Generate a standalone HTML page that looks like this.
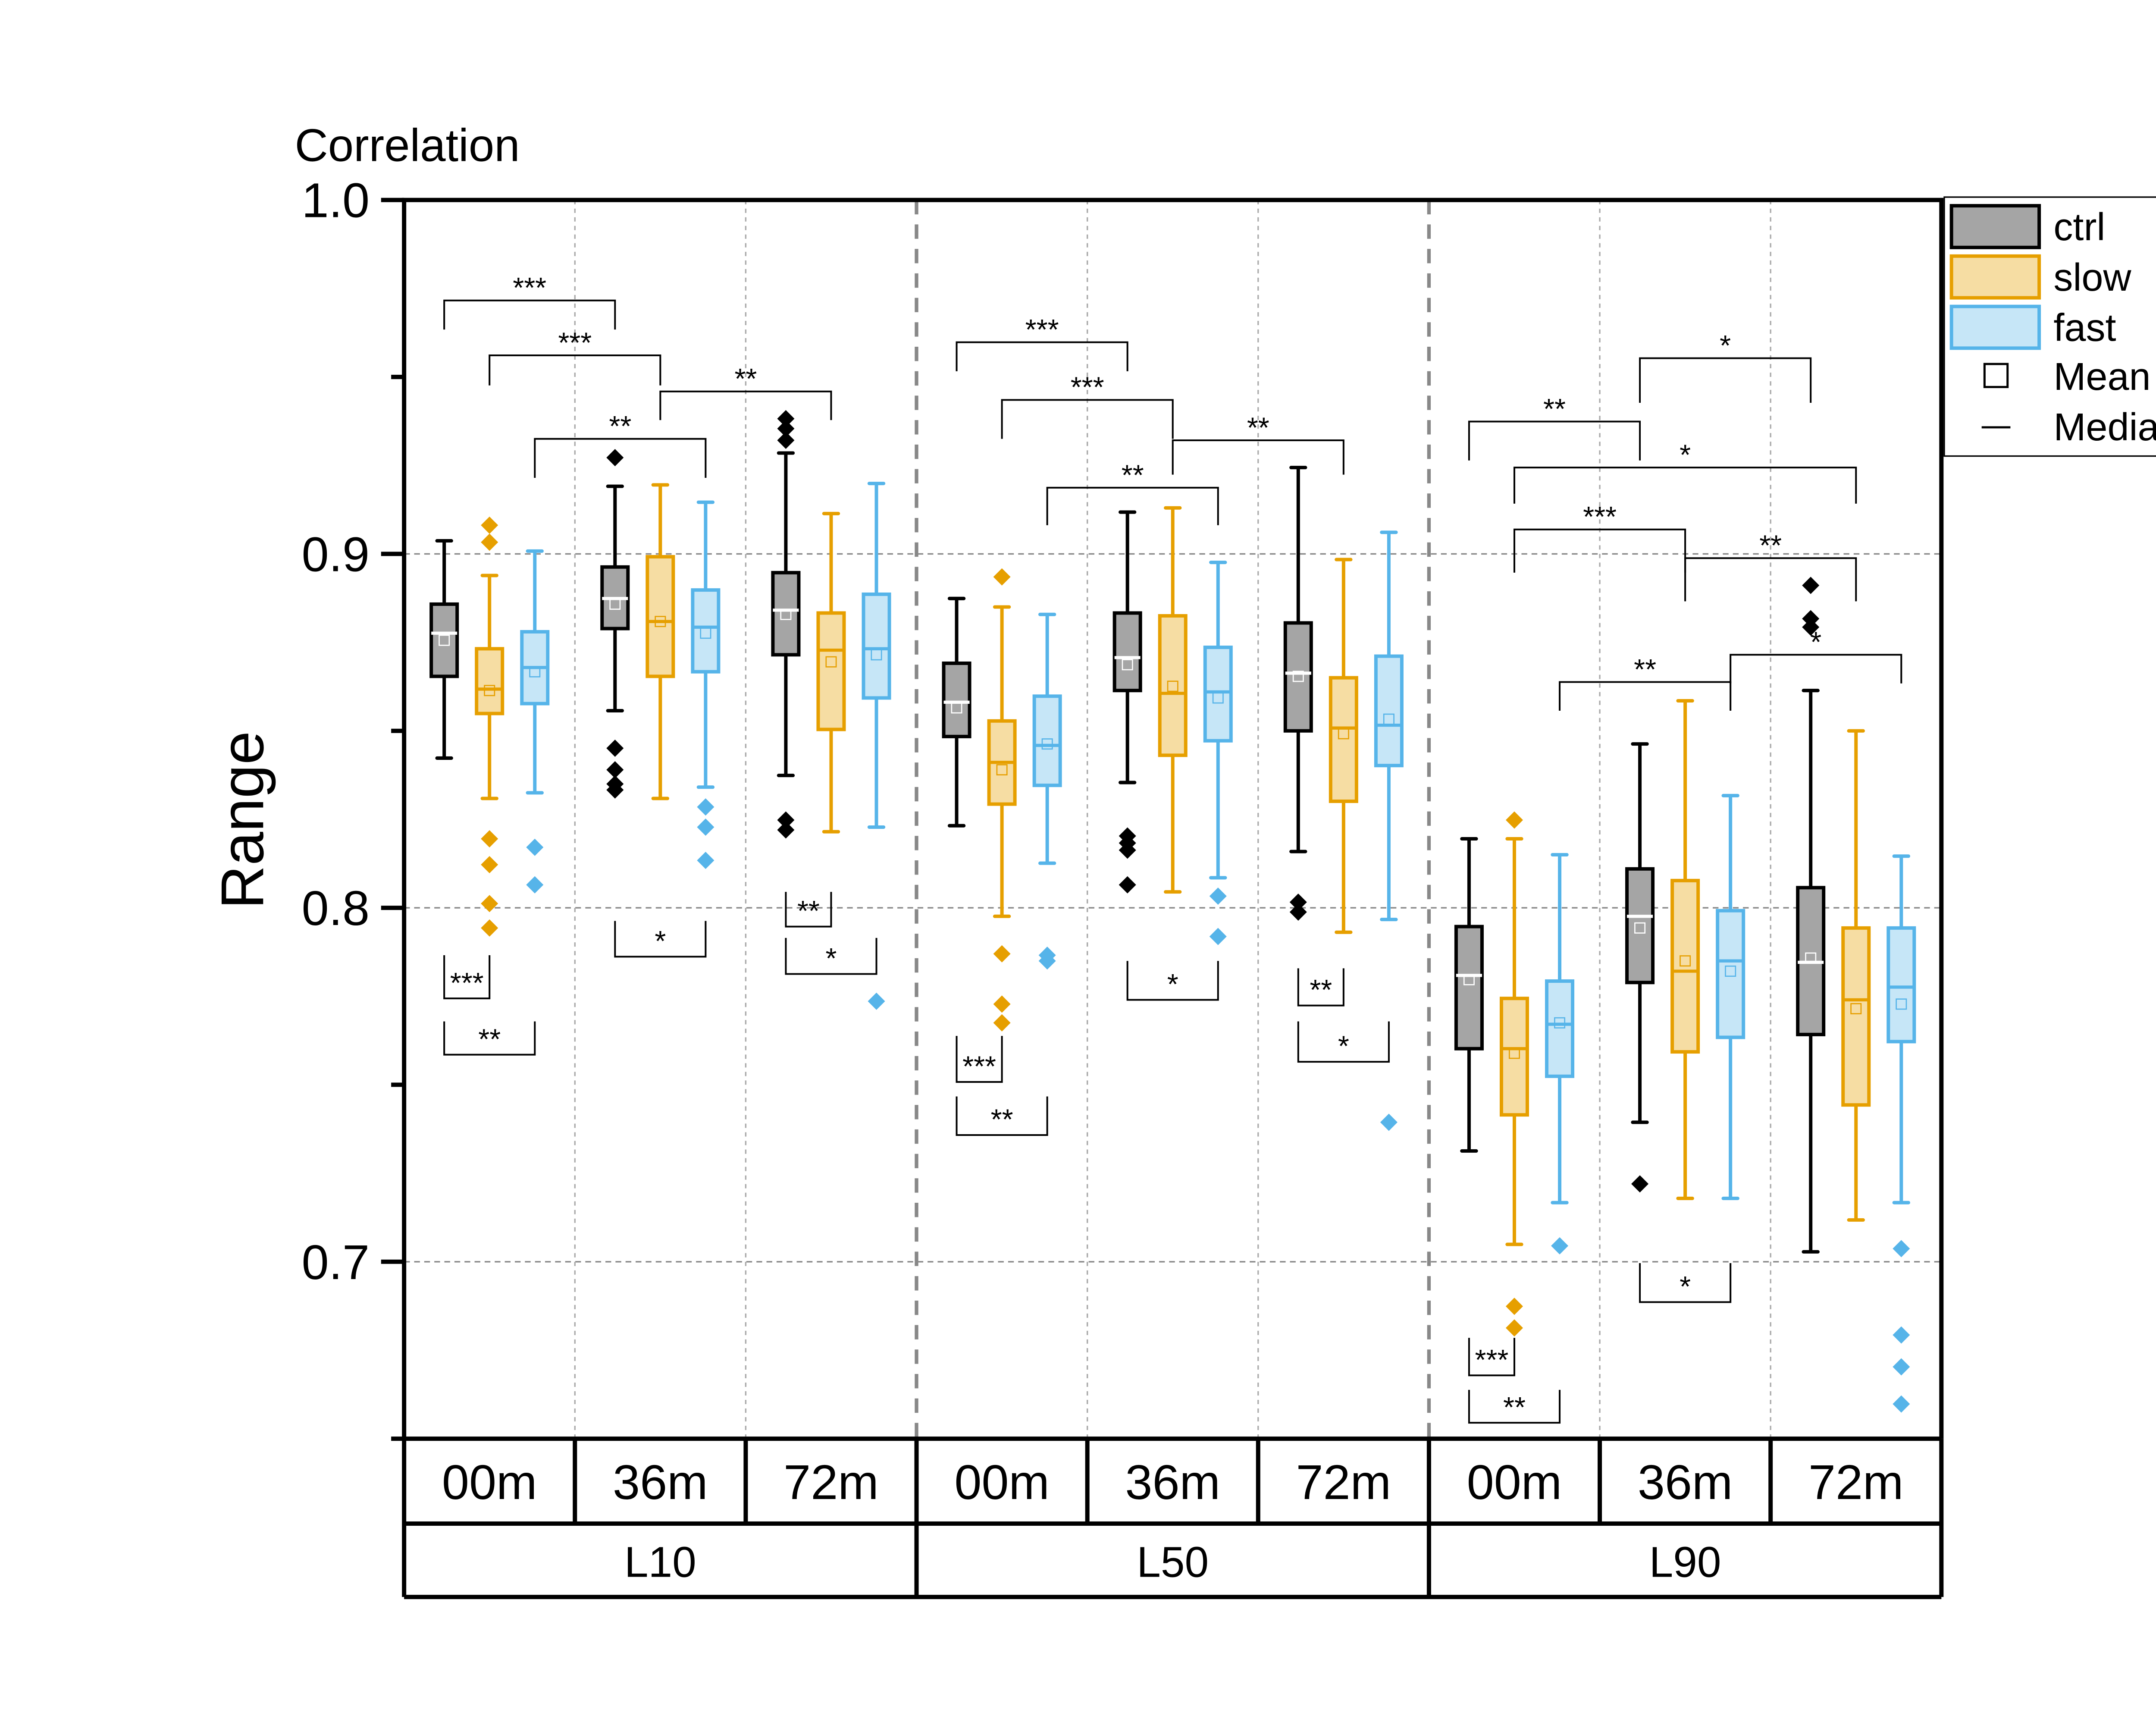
<!DOCTYPE html>
<html><head><meta charset="utf-8"><style>
html,body{margin:0;padding:0;background:#fff}
svg{display:block}
text{font-family:"Liberation Sans",sans-serif}
</style></head><body>
<svg id="chart" width="5226" height="4000" viewBox="0 0 1567 1199" preserveAspectRatio="none" xmlns="http://www.w3.org/2000/svg">
<g id="grid"></g>
<g id="marks"></g>
<g id="ann"></g>
<g id="axes"></g>
<text x="205" y="112" font-size="32">Correlation</text>
<text transform="translate(183,570) rotate(-90)" font-size="42" text-anchor="middle">Range</text>
<g id="legend"></g>
</svg>
<script>
// ---- data ----
const levels = ["L10","L50","L90"];
const times = ["00m","36m","72m"];
const seriesNames = ["ctrl","slow","fast"];
// each stat array: 27 entries ordered level > time > series
const whiskerHigh = [0.9037,0.8939,0.9008, 0.9191,0.9195,0.9146, 0.9285,0.9114,0.9199,
  0.8874,0.8850,0.8829, 0.9118,0.9130,0.8976, 0.9244,0.8984,0.9061,
  0.8195,0.8195,0.8150, 0.8463,0.8585,0.8317, 0.8614,0.8500,0.8146];
const q3 = [0.8858,0.8732,0.8780, 0.8963,0.8992,0.8898, 0.8947,0.8833,0.8886,
  0.8691,0.8528,0.8598, 0.8833,0.8825,0.8736, 0.8805,0.8650,0.8711,
  0.7947,0.7744,0.7793, 0.8110,0.8077,0.7992, 0.8057,0.7943,0.7943];
const median = [0.8776,0.8618,0.8679, 0.8874,0.8809,0.8793, 0.8841,0.8728,0.8732,
  0.8581,0.8411,0.8459, 0.8707,0.8606,0.8610, 0.8663,0.8508,0.8516,
  0.7809,0.7602,0.7671, 0.7976,0.7821,0.7850, 0.7846,0.7740,0.7776];
const q1 = [0.8654,0.8549,0.8577, 0.8789,0.8654,0.8667, 0.8715,0.8504,0.8593,
  0.8484,0.8293,0.8346, 0.8614,0.8431,0.8472, 0.8500,0.8301,0.8402,
  0.7602,0.7415,0.7524, 0.7789,0.7593,0.7634, 0.7642,0.7443,0.7622];
const whiskerLow = [0.8423,0.8309,0.8325, 0.8557,0.8309,0.8341, 0.8374,0.8215,0.8228,
  0.8232,0.7976,0.8126, 0.8354,0.8045,0.8085, 0.8159,0.7931,0.7967,
  0.7313,0.7049,0.7167, 0.7394,0.7179,0.7179, 0.7028,0.7118,0.7167];
const meanVals = [0.8756,0.8614,0.8667, 0.8858,0.8809,0.8776, 0.8829,0.8695,0.8715,
  0.8565,0.8390,0.8463, 0.8687,0.8626,0.8593, 0.8654,0.8492,0.8533,
  0.7797,0.7589,0.7675, 0.7943,0.7850,0.7821, 0.7858,0.7715,0.7728];
const outliers = [[],[0.9081,0.9033,0.8195,0.8122,0.8012,0.7943],[0.8171,0.8065],
  [0.9272,0.8451,0.8390,0.8350,0.8333],[],[0.8285,0.8228,0.8134],
  [0.9382,0.9354,0.9321,0.8248,0.8220],[],[0.7736],
  [],[0.8935,0.7870,0.7728,0.7675],[0.7866,0.7850],
  [0.8203,0.8183,0.8163,0.8065],[],[0.8033,0.7919],
  [0.8016,0.7988],[],[0.7394],
  [],[0.8248,0.6874,0.6813],[0.7045],
  [0.7220],[],[],
  [0.8911,0.8817,0.8793],[],[0.7037,0.6793,0.6703,0.6598]];
const yTicks = [0.7,0.8,0.9,1.0];
const yTickLabels = ["0.7","0.8","0.9","1.0"];
const yMinor = [0.65,0.75,0.85,0.95];
// significance brackets: [groupA, seriesA, groupB, seriesB, barValue, legValue, label]
const topBrackets = [
 [0,0,1,0,0.9716,0.9634,"***"],[0,1,1,1,0.9561,0.9476,"***"],[0,2,1,2,0.9325,0.9215,"**"],[1,1,2,1,0.9459,0.9378,"**"],
 [3,0,4,0,0.9598,0.9516,"***"],[3,1,4,1,0.9435,0.9325,"***"],[3,2,4,2,0.9187,0.9081,"**"],[4,1,5,1,0.9321,0.9224,"**"],
 [6,0,7,0,0.9374,0.9264,"**"],[7,0,8,0,0.9553,0.9427,"*"],[6,1,8,1,0.9244,0.9142,"*"],[6,1,7,1,0.9069,0.8947,"***"],[7,1,8,1,0.8988,0.8866,"**"],[6,2,7,2,0.8638,0.8557,"**"],[7,2,8,2,0.8715,0.8634,"*"]];
const bottomBrackets = [
 [0,0,0,1,0.7744,0.7866,"***"],[0,0,0,2,0.7585,0.7679,"**"],[1,0,1,2,0.7862,0.7963,"*"],[2,0,2,1,0.7947,0.8045,"**"],[2,0,2,2,0.7813,0.7915,"*"],
 [3,0,3,1,0.7508,0.7638,"***"],[3,0,3,2,0.7358,0.7467,"**"],[4,0,4,2,0.7740,0.7850,"*"],[5,0,5,1,0.7724,0.7829,"**"],[5,0,5,2,0.7565,0.7679,"*"],
 [6,0,6,1,0.6679,0.6785,"***"],[6,0,6,2,0.6545,0.6638,"**"],[7,0,7,2,0.6886,0.6996,"*"]];

// ---- geometry ----
const X0=281, X1=1350, Y0=1000, Ytop=139, VMIN=0.65, VMAX=1.0;
const GW=(X1-X0)/9;
const y = v => Ytop + (VMAX-v)/(VMAX-VMIN)*(Y0-Ytop);
const xc = (g,s) => X0 + GW*(g+0.5) + (s-1)*31.5;
const NS="http://www.w3.org/2000/svg";
function el(tag, attrs, parent, txt){const e=document.createElementNS(NS,tag);for(const k in attrs)e.setAttribute(k,attrs[k]);if(txt!==undefined)e.textContent=txt;parent.appendChild(e);return e;}
const fills=["#a5a5a5","#f6dda3","#c6e6f7"], strokes=["#000","#e69f00","#56b4e9"];
const medCol=["#fff","#e69f00","#56b4e9"], meanCol=["#fff","#e69f00","#56b4e9"];
const grid=document.getElementById('grid'), marks=document.getElementById('marks'), ann=document.getElementById('ann'), axes=document.getElementById('axes');

// grid
yTicks.slice(0,3).forEach(v=>{const l=el('line',{x1:X0,x2:X1,y1:y(v),y2:y(v),stroke:'#888','stroke-width':1,'stroke-dasharray':'4,3'},grid);

});
for(let g=1;g<9;g++){const x=X0+GW*g;const major=g%3===0;
 const l=el('line',{x1:x,x2:x,y1:Ytop,y2:Y0,stroke:major?'#888':'#aaa','stroke-width':major?2.5:1,'stroke-dasharray':major?'10,7':'3,3'},grid);
 
 }

// boxes
for(let i=0;i<27;i++){
 const g=Math.floor(i/3), s=i%3, cx=xc(g,s), hw=9;
 const grp=el('g',{},marks);
 
 
 const sw=2.4;
 el('line',{x1:cx,x2:cx,y1:y(whiskerHigh[i]),y2:y(q3[i]),stroke:strokes[s],'stroke-width':sw},grp);
 el('line',{x1:cx,x2:cx,y1:y(q1[i]),y2:y(whiskerLow[i]),stroke:strokes[s],'stroke-width':sw},grp);
 el('line',{x1:cx-5,x2:cx+5,y1:y(whiskerHigh[i]),y2:y(whiskerHigh[i]),stroke:strokes[s],'stroke-width':sw,'stroke-linecap':'round'},grp);
 el('line',{x1:cx-5,x2:cx+5,y1:y(whiskerLow[i]),y2:y(whiskerLow[i]),stroke:strokes[s],'stroke-width':sw,'stroke-linecap':'round'},grp);
 el('rect',{x:cx-hw,y:y(q3[i]),width:hw*2,height:y(q1[i])-y(q3[i]),fill:fills[s],stroke:strokes[s],'stroke-width':sw},grp);
 el('line',{x1:cx-hw,x2:cx+hw,y1:y(median[i]),y2:y(median[i]),stroke:medCol[s],'stroke-width':2.2},grp);
 el('rect',{x:cx-3.5,y:y(meanVals[i])-3.5,width:7,height:7,fill:'none',stroke:meanCol[s],'stroke-width':0.8},grp);
 outliers[i].forEach(v=>{const p=el('path',{d:`M${cx},${y(v)-6}L${cx+6},${y(v)}L${cx},${y(v)+6}L${cx-6},${y(v)}Z`,fill:s===0?'#000':strokes[s]},grp);
  
  });
}

// brackets
function bracket(b,top){
 const xa=xc(b[0],b[1]), xb=xc(b[2],b[3]), yb=y(b[4]), yl=y(b[5]);
 const g=el('g',{},ann);
 
 
 el('path',{d:`M${xa},${yl}L${xa},${yb}L${xb},${yb}L${xb},${yl}`,fill:'none',stroke:'#000','stroke-width':1.2},g);
 el('text',{x:(xa+xb)/2,y:top?yb-2:yb-4,'font-size':20,'text-anchor':'middle'},g,b[6]);
}
topBrackets.forEach(b=>bracket(b,true));
bottomBrackets.forEach(b=>bracket(b,false));

// axes frame
el('path',{d:`M${X0},${Y0}L${X0},${Ytop}L${X1},${Ytop}L${X1},${Y0}`,fill:'none',stroke:'#000','stroke-width':3},axes);
yTicks.forEach((v,k)=>{el('line',{x1:X0-16,x2:X0,y1:y(v),y2:y(v),stroke:'#000','stroke-width':3},axes);
 const t=el('text',{x:X0-24,y:y(v)+12,'font-size':34,'text-anchor':'end'},axes,yTickLabels[k]);
 
 });
yMinor.forEach(v=>el('line',{x1:X0-9,x2:X0,y1:y(v),y2:y(v),stroke:'#000','stroke-width':3},axes));
// category table
el('line',{x1:X0,x2:X1,y1:Y0,y2:Y0,stroke:'#000','stroke-width':3},axes);
el('line',{x1:X0,x2:X1,y1:1059,y2:1059,stroke:'#000','stroke-width':3},axes);
el('line',{x1:X0,x2:X1,y1:1110,y2:1110,stroke:'#000','stroke-width':3},axes);
el('line',{x1:X0,x2:X0,y1:Y0,y2:1110,stroke:'#000','stroke-width':3},axes);
el('line',{x1:X1,x2:X1,y1:Y0,y2:1110,stroke:'#000','stroke-width':3},axes);
for(let g=1;g<9;g++){const x=X0+GW*g;el('line',{x1:x,x2:x,y1:Y0,y2:g%3===0?1110:1059,stroke:'#000','stroke-width':3},axes);}
for(let g=0;g<9;g++){const t=el('text',{x:X0+GW*(g+0.5),y:1042,'font-size':34,'text-anchor':'middle'},axes,times[g%3]);
 
 }
levels.forEach((L,k)=>{const t=el('text',{x:X0+GW*(3*k+1.5),y:1096,'font-size':30,'text-anchor':'middle'},axes,L);
 
 });

// legend
const lg=document.getElementById('legend');
el('rect',{x:1352,y:137,width:173,height:180,fill:'#fff',stroke:'#000','stroke-width':1},lg);
seriesNames.forEach((n,s)=>{const yy=141+s*35;
 const e=el('g',{},lg);
 
 
 el('rect',{x:1357,y:yy+2,width:61,height:29,fill:fills[s],stroke:strokes[s],'stroke-width':2.4},e);
 el('text',{x:1428,y:yy+26,'font-size':27},e,n);});
el('rect',{x:1380,y:253,width:16,height:16,fill:'none',stroke:'#000','stroke-width':1.5},lg);
el('text',{x:1428,y:271,'font-size':27},lg,'Mean');
el('line',{x1:1378,x2:1398,y1:297,y2:297,stroke:'#000','stroke-width':1.5},lg);
el('text',{x:1428,y:306,'font-size':27},lg,'Median');
</script>
</body></html>
